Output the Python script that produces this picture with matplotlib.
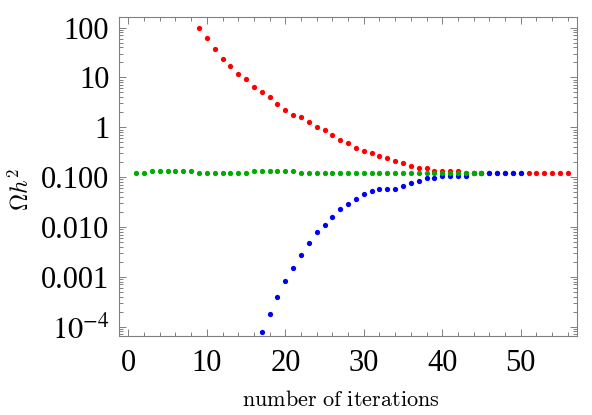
import numpy as np
import matplotlib.pyplot as plt
from matplotlib.ticker import MultipleLocator, LogLocator, NullFormatter

plt.rcParams['font.family'] = 'Liberation Serif'
plt.rcParams['mathtext.fontset'] = 'cm'

# red series: iterations 9..56
red_x = list(range(9, 57))
red_y = [100, 62, 38, 24, 16.7, 11.7, 9.3, 6.5, 5.1, 4.1, 2.9, 2.24, 1.78, 1.6,
         1.25, 1.0, 0.88, 0.70, 0.55, 0.49, 0.38, 0.34, 0.31, 0.27, 0.24, 0.21,
         0.19, 0.169, 0.150, 0.150, 0.132, 0.132, 0.132, 0.132,
         0.1185, 0.1185, 0.1185, 0.1185, 0.1185, 0.1185, 0.1185, 0.1185,
         0.1185, 0.1185, 0.1185, 0.1185, 0.1185, 0.1185]

# blue series: iterations 17..50
blue_x = list(range(17, 51))
blue_y = [7.7e-5, 1.77e-4, 4.0e-4, 8.2e-4, 1.47e-3, 2.68e-3, 4.8e-3, 7.8e-3,
          0.0110, 0.0157, 0.0224, 0.0283, 0.036, 0.0456, 0.0516, 0.0574,
          0.0582, 0.0582, 0.0659, 0.0747, 0.083, 0.0942, 0.0942,
          0.1047, 0.1047, 0.1047, 0.1047,
          0.1185, 0.1185, 0.1185, 0.1185, 0.1185, 0.1185, 0.1185]

# green series: iterations 1..45
green_x = list(range(1, 46))
green_y = [0.1185, 0.1185, 0.134, 0.134, 0.134, 0.134, 0.134, 0.134,
           0.1185, 0.1185, 0.1185, 0.1185, 0.1185, 0.1185, 0.1185,
           0.134, 0.134, 0.134, 0.134, 0.134, 0.134] + [0.1185] * 24

ytick_vals = [1e2, 1e1, 1, 0.1, 0.01, 0.001, 1e-4]
ytick_labels = ['100', '10', '1', '0.100', '0.010', '0.001', r'$10^{-4}$']
xtick_vals = [0, 10, 20, 30, 40, 50]

fig = plt.figure(figsize=(5.92, 4.15), dpi=100)
ax = fig.add_axes([0.201, 0.190, 0.774, 0.769])

ms = 3.8
ax.plot(red_x, red_y, 'o', color='#ff0000', ms=ms, mec='none')
ax.plot(blue_x, blue_y, 'o', color='#0000ff', ms=ms, mec='none')
ax.plot(green_x, green_y, 'o', color='#00aa00', ms=ms, mec='none')

ax.set_yscale('log')
ax.set_xlim(-1.2, 57.2)
ax.set_ylim(10 ** -4.193, 10 ** 2.213)

ax.set_xticks(xtick_vals)
ax.set_xticklabels([str(v) for v in xtick_vals])
ax.xaxis.set_minor_locator(MultipleLocator(2))
ax.set_yticks(ytick_vals)
ax.set_yticklabels(ytick_labels)
ax.yaxis.set_minor_locator(LogLocator(base=10, subs=np.arange(2, 10), numticks=20))
ax.yaxis.set_minor_formatter(NullFormatter())

frame = '#808080'
for s in ax.spines.values():
    s.set_color(frame)
    s.set_linewidth(0.8)
ax.tick_params(which='both', direction='in', top=True, right=True, color=frame,
               width=0.7, labelsize=22)
ax.tick_params(axis='x', pad=9)
ax.tick_params(axis='y', pad=7)
ax.tick_params(which='major', length=5)
ax.tick_params(which='minor', length=3)
for lab in ax.get_yticklabels():
    lab.set_math_fontfamily('stix')

ax.set_xlabel(r'$\mathrm{number\ of\ iterations}$', fontsize=16)
ax.set_ylabel(r'$\mathit{\Omega} h^2$', fontsize=17)
ax.xaxis.set_label_coords(0.485, -0.172)
ax.yaxis.set_label_coords(-0.186, 0.46)

fig.savefig('out.png', dpi=100)
